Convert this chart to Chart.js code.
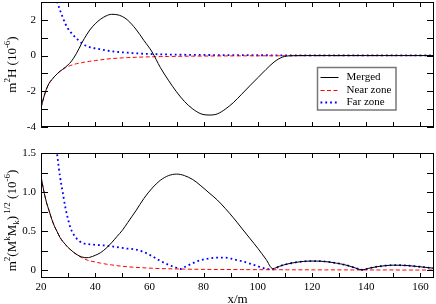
<!DOCTYPE html>
<html>
<head>
<meta charset="utf-8">
<script src="https://cdn.jsdelivr.net/npm/chart.js@4.4.1/dist/chart.umd.min.js"></script>
<style>
  html, body { margin: 0; padding: 0; background: #fff; }
  #wrap { position: relative; width: 436px; height: 304px; }
  #topBox { position: absolute; left: 0; top: 0; }
  #botBox { position: absolute; left: 0; top: 140px; }
</style>
</head>
<body>
<div id="wrap">
  <div id="topBox"><canvas id="hChart" width="436" height="140"></canvas></div>
  <div id="botBox"><canvas id="mChart" width="436" height="164"></canvas></div>
</div>
<script>
// --- data ---
const seriesNames = ["Merged", "Near zone", "Far zone"];

// top panel: m^2 H (10^-6)
const hX = [20, 21, 22, 23, 24, 25, 26, 27, 28, 29, 30, 31, 32, 33, 34, 35, 36, 38, 40, 42, 44, 46, 48, 50, 52, 55, 58, 61, 64, 67, 70, 73, 76, 79, 82, 85, 88, 91, 94, 97, 100, 103, 106, 109, 112, 115, 120, 130, 140, 150, 165];
const hMerged = [-2.92, -2.35, -1.88, -1.55, -1.35, -1.17, -1.02, -0.88, -0.77, -0.65, -0.52, -0.36, -0.15, 0.1, 0.38, 0.69, 0.96, 1.43, 1.78, 2.04, 2.22, 2.31, 2.29, 2.19, 1.98, 1.48, 0.84, 0.2, -0.66, -1.38, -2.03, -2.58, -2.99, -3.26, -3.33, -3.27, -3.0, -2.63, -2.17, -1.7, -1.24, -0.78, -0.36, -0.09, -0.01, 0, 0, 0, 0, 0, 0];
const hNear = [-2.92, -2.35, -1.88, -1.55, -1.35, -1.17, -1.02, -0.88, -0.77, -0.68, -0.61, -0.55, -0.5, -0.46, -0.43, -0.4, -0.37, -0.32, -0.28, -0.24, -0.2, -0.17, -0.15, -0.13, -0.115, -0.095, -0.08, -0.068, -0.058, -0.05, -0.043, -0.037, -0.032, -0.028, -0.025, -0.022, -0.02, -0.018, -0.016, -0.014, -0.013, -0.012, -0.011, -0.01, -0.009, -0.008, -0.007, -0.006, -0.005, -0.004, -0.003];
const hFar = [10.5, 8.6, 7.0, 5.6, 4.5, 3.6, 3.0, 2.55, 2.15, 1.78, 1.5, 1.3, 1.12, 0.98, 0.83, 0.7, 0.6, 0.47, 0.4, 0.35, 0.29, 0.24, 0.21, 0.18, 0.16, 0.13, 0.1, 0.085, 0.07, 0.06, 0.05, 0.045, 0.04, 0.035, 0.032, 0.029, 0.026, 0.024, 0.022, 0.02, 0.018, 0.017, 0.016, 0.015, 0.014, 0.013, 0.012, 0.011, 0.01, 0.009, 0.008];

// bottom panel: m^2 (M^k M_k)^1/2 (10^-6)
const mX = [20, 21, 22, 23, 24, 25, 26, 27, 28, 29, 30, 31, 32, 33, 34, 35, 36, 37, 38, 40, 42, 44, 46, 48, 50, 52, 55, 58, 61, 64, 67, 70, 71.5, 73, 76, 79, 82, 85, 88, 91, 94, 97, 100, 103, 105.5, 108, 111, 114, 117, 121, 125, 129, 132, 135, 138.5, 141, 144, 147, 150, 153, 156, 159, 162, 165];
const mMerged = [1.2, 1.02, 0.87, 0.76, 0.65, 0.56, 0.49, 0.42, 0.37, 0.33, 0.29, 0.26, 0.23, 0.205, 0.185, 0.17, 0.162, 0.16, 0.165, 0.19, 0.225, 0.28, 0.35, 0.43, 0.51, 0.61, 0.76, 0.92, 1.05, 1.15, 1.21, 1.23, 1.225, 1.21, 1.16, 1.08, 0.99, 0.9, 0.79, 0.67, 0.54, 0.41, 0.28, 0.14, 0.02, 0.05, 0.08, 0.1, 0.113, 0.117, 0.11, 0.09, 0.07, 0.04, 0.005, 0.025, 0.045, 0.058, 0.064, 0.063, 0.057, 0.047, 0.036, 0.025];
const mNear = [1.2, 1.02, 0.87, 0.76, 0.65, 0.56, 0.49, 0.42, 0.37, 0.33, 0.29, 0.26, 0.23, 0.205, 0.18, 0.16, 0.145, 0.13, 0.12, 0.105, 0.09, 0.078, 0.068, 0.058, 0.05, 0.044, 0.036, 0.03, 0.025, 0.021, 0.018, 0.016, 0.015, 0.014, 0.012, 0.011, 0.01, 0.009, 0.009, 0.008, 0.008, 0.007, 0.007, 0.006, 0.006, 0.006, 0.005, 0.005, 0.005, 0.004, 0.004, 0.004, 0.004, 0.003, 0.003, 0.003, 0.003, 0.003, 0.003, 0.002, 0.002, 0.002, 0.002, 0.002];
const mFar = [3.5, 3.0, 2.6, 2.3, 2.0, 1.75, 1.47, 1.2, 1.0, 0.8, 0.65, 0.53, 0.46, 0.41, 0.38, 0.35, 0.34, 0.335, 0.33, 0.325, 0.32, 0.315, 0.305, 0.295, 0.285, 0.275, 0.265, 0.23, 0.18, 0.12, 0.07, 0.03, 0.015, 0.04, 0.09, 0.13, 0.15, 0.16, 0.16, 0.14, 0.115, 0.085, 0.05, 0.02, 0.01, 0.05, 0.08, 0.1, 0.113, 0.117, 0.11, 0.09, 0.07, 0.04, 0.005, 0.025, 0.045, 0.058, 0.064, 0.063, 0.057, 0.047, 0.036, 0.025];

// axes and tick labels
const xTicks = [20, 40, 60, 80, 100, 120, 140, 160];
const hTicks = [-4, -2, 0, 2];
const mTicks = [0, 0.5, 1, 1.5];

const hTitle = [["m", 0], ["2", 1], ["H (10", 0], ["-6", 1], [")", 0]];
const mTitle = [["m", 0], ["2", 1], ["(M", 0], ["k", 1], ["M", 0], ["k", -1], [")", 0], [" 1/2", 1], [" (10", 0], ["-6", 1], [")", 0]];
const xTitle = "x/m";

const colors = ["#000000", "#ff0000", "#0000ff"];
const dashes = [[], [4, 2.5], [1.8, 3]];
const widths = [1, 1, 1.8];

Chart.defaults.font.family = '"Liberation Serif", "Times New Roman", serif';
Chart.defaults.font.size = 11;
Chart.defaults.color = "#000";

function makeSets(xs, lists) {
  return lists.map((ys, i) => ({
    label: seriesNames[i],
    data: xs.map((x, j) => ({ x: x, y: ys[j] })),
    borderColor: colors[i],
    borderWidth: widths[i],
    borderDash: dashes[i],
    pointRadius: 0,
    fill: false,
    cubicInterpolationMode: "monotone"
  }));
}

// no automatic label padding, the panel edges are fixed
function noPad(s) {
  s.paddingTop = 0; s.paddingBottom = 0; s.paddingLeft = 0; s.paddingRight = 0;
}

// frame + inward ticks on all four sides
const frameTicks = {
  id: "frameTicks",
  afterDatasetsDraw(chart, args, o) {
    const { ctx, chartArea: a } = chart;
    const x = chart.scales.x, y = chart.scales.y;
    ctx.save();
    ctx.strokeStyle = "#000";
    ctx.lineWidth = 1;
    ctx.beginPath();
    const nx = Math.round((o.xMax - o.xMin) / o.xStep);
    for (let i = 0; i <= nx; i++) {
      const px = Math.round(x.getPixelForValue(o.xMin + i * o.xStep)) + 0.5;
      ctx.moveTo(px, a.bottom); ctx.lineTo(px, a.bottom - 5);
      ctx.moveTo(px, a.top); ctx.lineTo(px, a.top + 5);
    }
    const ny = Math.round((o.yMax - o.yMin) / o.yStep);
    for (let i = 0; i <= ny; i++) {
      const py = Math.round(y.getPixelForValue(o.yMin + i * o.yStep)) + 0.5;
      ctx.moveTo(a.left, py); ctx.lineTo(a.left + 7, py);
      ctx.moveTo(a.right, py); ctx.lineTo(a.right - 7, py);
    }
    ctx.stroke();
    ctx.strokeRect(Math.round(a.left) + 0.5, Math.round(a.top) + 0.5, Math.round(a.width) - 1, Math.round(a.height) - 1);
    ctx.restore();
  }
};

// rotated y title with super/subscripts
const richTitle = {
  id: "richTitle",
  afterDraw(chart, args, o) {
    const { ctx, chartArea: a } = chart;
    const big = 13, small = 9;
    ctx.save();
    ctx.fillStyle = "#000";
    ctx.textBaseline = "alphabetic";
    let w = 0;
    o.parts.forEach(p => {
      ctx.font = (p[1] ? small : big) + 'px "Liberation Serif", serif';
      w += ctx.measureText(p[0]).width;
    });
    ctx.translate(o.cx, (a.top + a.bottom) / 2 + o.dy);
    ctx.rotate(-Math.PI / 2);
    let pos = -w / 2;
    o.parts.forEach(p => {
      ctx.font = (p[1] ? small : big) + 'px "Liberation Serif", serif';
      const shift = p[1] === 1 ? -6 : p[1] === -1 ? 3 : 0;
      ctx.fillText(p[0], pos, 4 + shift);
      pos += ctx.measureText(p[0]).width;
    });
    ctx.restore();
  }
};

// boxed legend inside the top panel
const boxLegend = {
  id: "boxLegend",
  afterDraw(chart, args, o) {
    const ctx = chart.ctx;
    ctx.save();
    ctx.strokeStyle = "#777";
    ctx.lineWidth = 1.5;
    ctx.fillStyle = "#fff";
    ctx.fillRect(o.left, o.top, o.width, o.height);
    ctx.strokeRect(o.left, o.top, o.width, o.height);
    ctx.font = '11px "Liberation Serif", serif';
    ctx.textBaseline = "middle";
    chart.data.datasets.forEach((ds, i) => {
      const yy = Math.round(o.top + 9.5 + i * 12.5) + 0.5;
      ctx.strokeStyle = colors[i];
      ctx.lineWidth = widths[i];
      ctx.setLineDash(dashes[i]);
      ctx.beginPath();
      ctx.moveTo(o.left + 3, yy);
      ctx.lineTo(o.left + 21, yy);
      ctx.stroke();
      ctx.setLineDash([]);
      ctx.fillStyle = "#000";
      ctx.fillText(ds.label, o.left + 29, yy);
    });
    ctx.restore();
  }
};

new Chart(document.getElementById("hChart"), {
  type: "line",
  data: { datasets: makeSets(hX, [hMerged, hNear, hFar]) },
  options: {
    responsive: false,
    animation: false,
    layout: { padding: { top: 2, right: 2, left: 0, bottom: 0 } },
    scales: {
      x: {
        type: "linear", min: 20, max: 165,
        grid: { display: false, drawTicks: false },
        border: { display: false },
        ticks: { display: false },
        afterFit: s => { s.height = 13; noPad(s); }
      },
      y: {
        min: -4, max: 3,
        grid: { display: false, drawTicks: false },
        border: { display: false },
        ticks: { padding: 5 },
        afterBuildTicks: s => { s.ticks = hTicks.map(v => ({ value: v })); },
        afterFit: s => { s.width = 41; noPad(s); }
      }
    },
    plugins: {
      legend: { display: false },
      tooltip: { enabled: false },
      frameTicks: { xMin: 20, xMax: 160, xStep: 10, yMin: -4, yMax: 3, yStep: 1 },
      richTitle: { parts: hTitle, cx: 12, dy: 0 },
      boxLegend: { left: 317.5, top: 67.5, width: 78.5, height: 42.5 }
    }
  },
  plugins: [frameTicks, richTitle, boxLegend]
});

new Chart(document.getElementById("mChart"), {
  type: "line",
  data: { datasets: makeSets(mX, [mMerged, mNear, mFar]) },
  options: {
    responsive: false,
    animation: false,
    layout: { padding: { top: 13, right: 2, left: 0, bottom: 0 } },
    scales: {
      x: {
        type: "linear", min: 20, max: 165,
        grid: { display: false, drawTicks: false },
        border: { display: false },
        ticks: { padding: 3, maxRotation: 0 },
        afterBuildTicks: s => { s.ticks = xTicks.map(v => ({ value: v })); },
        title: { display: true, text: xTitle, font: { size: 13 }, padding: { top: 0, bottom: -3.5 } },
        afterFit: s => { s.height = 26; noPad(s); }
      },
      y: {
        min: -0.1, max: 1.5,
        grid: { display: false, drawTicks: false },
        border: { display: false },
        ticks: { padding: 5 },
        afterBuildTicks: s => { s.ticks = mTicks.map(v => ({ value: v })); },
        afterFit: s => { s.width = 41; noPad(s); }
      }
    },
    plugins: {
      legend: { display: false },
      tooltip: { enabled: false },
      frameTicks: { xMin: 20, xMax: 160, xStep: 10, yMin: 0, yMax: 1.5, yStep: 0.25 },
      richTitle: { parts: mTitle, cx: 12, dy: 5 }
    }
  },
  plugins: [frameTicks, richTitle]
});
</script>
</body>
</html>
